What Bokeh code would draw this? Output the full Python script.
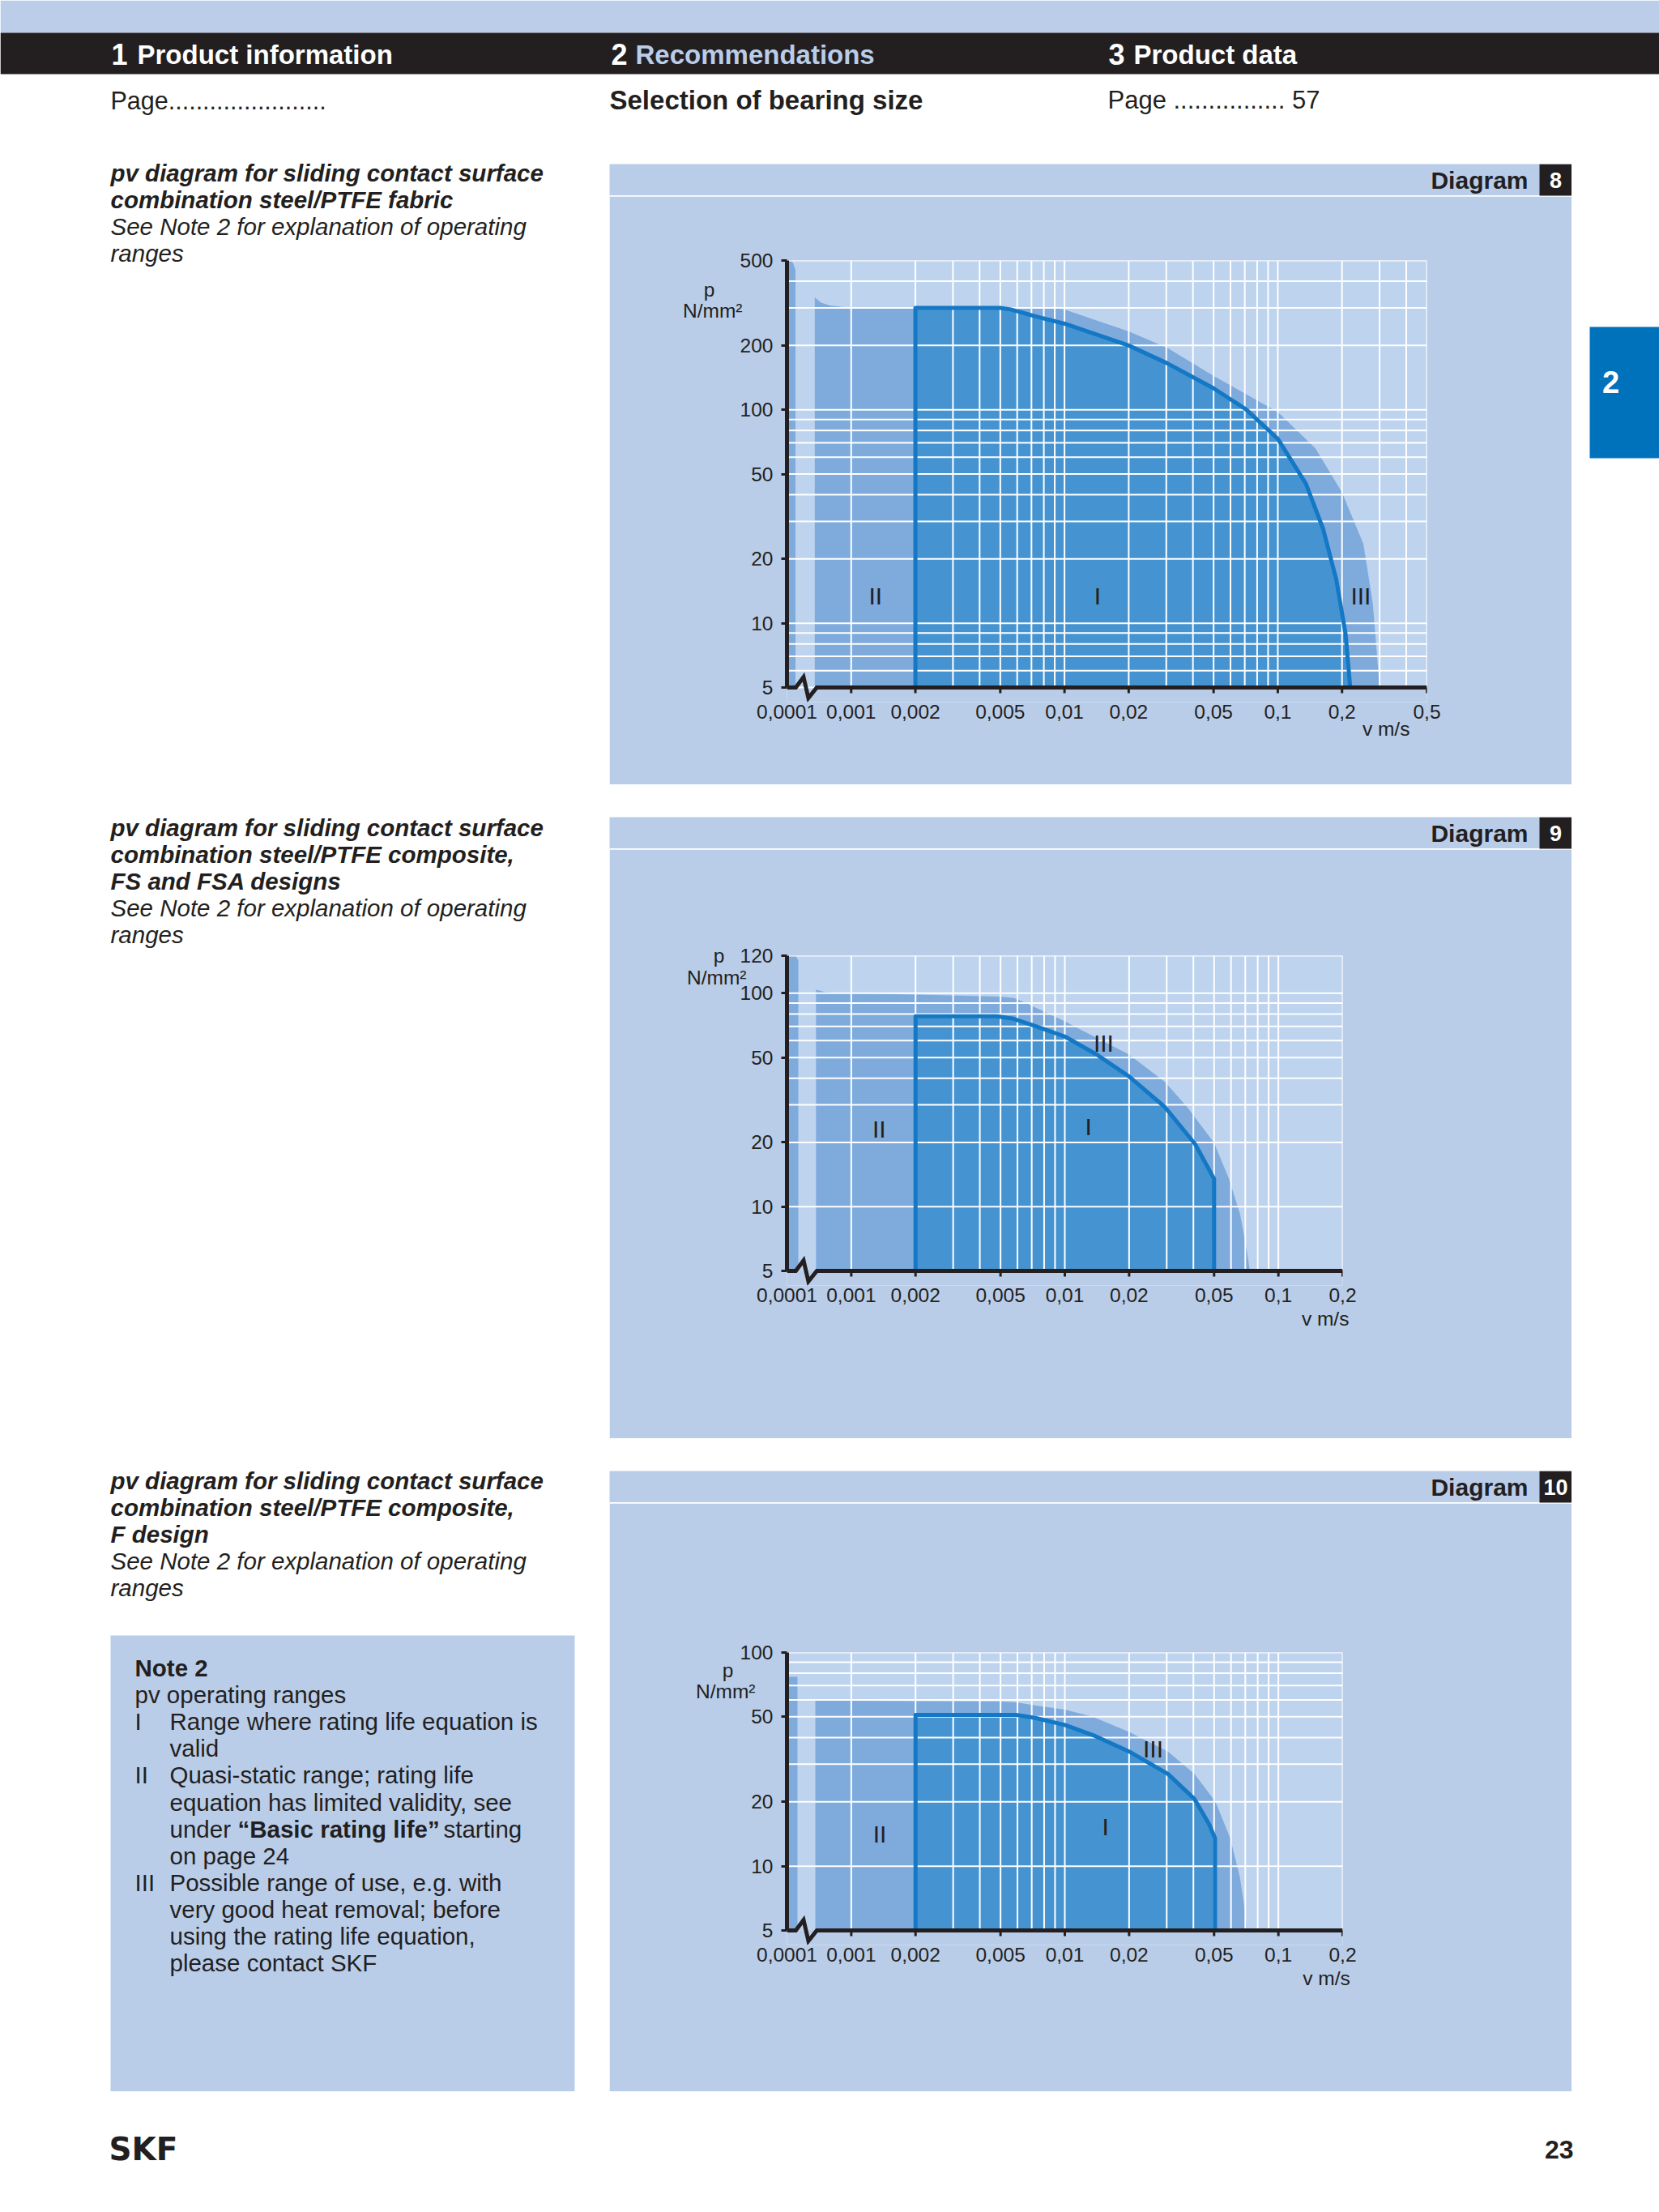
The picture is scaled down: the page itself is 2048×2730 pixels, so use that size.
from bokeh.plotting import figure
from bokeh.layouts import column, row
from bokeh.models import Range1d, FixedTicker, LogAxis, Spacer
from bokeh.core.properties import value
from bokeh.embed import file_html
from bokeh.resources import INLINE

FONT = "Liberation Sans"
INK = "#231f20"
PANEL = "#b9cde9"
FRAME = "#bdd3ee"
MED = "#7eaadc"
DARK = "#4594d1"
CURVE = "#1478c4"
TAB = "#0072bc"
TOPBAND = "#bccdea"
LIGHTTXT = "#b9cde9"
NBSP = "\u00a0"

# ---------------- chart data ----------------
X0 = 0.0005  # origin of the broken v axis, carries the "0,0001" label
ZIG_V = [0.0005, 0.00055, 0.000598, 0.00063, 0.00069]
ZIG_DY = [0, 0, 13, -13, 0]  # px above/below the p = 5 line

XT_8 = [0.0005, 0.001, 0.002, 0.005, 0.01, 0.02, 0.05, 0.1, 0.2, 0.5]
XL_8 = ["0,0001", "0,001", "0,002", "0,005", "0,01", "0,02", "0,05", "0,1", "0,2", "0,5"]
XT_9 = [0.0005, 0.001, 0.002, 0.005, 0.01, 0.02, 0.05, 0.1, 0.2]
XL_9 = ["0,0001", "0,001", "0,002", "0,005", "0,01", "0,02", "0,05", "0,1", "0,2"]

YT_8 = [5, 10, 20, 50, 100, 200, 500]
YL_8 = ["5", "10", "20", "50", "100", "200", "500"]
YT_9 = [5, 10, 20, 50, 100, 150]
YL_9 = ["5", "10", "20", "50", "100", "120"]
YT_10 = [5, 10, 20, 50, 100]
YL_10 = ["5", "10", "20", "50", "100"]

GX_8 = [0.001, 0.002, 0.003, 0.004, 0.005, 0.006, 0.007, 0.008, 0.009,
        0.01, 0.02, 0.03, 0.04, 0.05, 0.06, 0.07, 0.08, 0.09,
        0.1, 0.2, 0.3, 0.4, 0.5]
GX_9 = GX_8[:-3]
GY_8 = [5, 6, 7, 8, 9, 10, 20, 30, 40, 50, 60, 70, 80, 90, 100, 200, 300, 400, 500]
GY_9 = [10, 20, 30, 40, 50, 60, 70, 80, 90, 100, 150]
GY_10 = [10, 20, 30, 40, 50, 60, 70, 80, 90, 100]

# Diagram 8 - steel/PTFE fabric
S8_V = [0.0005, 0.0005, 0.00052, 0.000535, 0.000548, 0.000548]
S8_P = [5, 500, 500, 485, 450, 5]
O8_V = [0.000675, 0.000675, 0.00072, 0.0008, 0.001, 0.0088, 0.01, 0.02, 0.0303, 0.05,
        0.1, 0.15, 0.2, 0.252, 0.279, 0.30]
O8_P = [5, 335, 318, 307, 300, 300, 295, 233, 195, 144, 97.5, 66, 41, 23.5, 12.3, 5]
I8_V = [0.002, 0.002, 0.005, 0.0056, 0.0073, 0.01, 0.02, 0.0303, 0.05, 0.0713, 0.1,
        0.1355, 0.163, 0.188, 0.2078, 0.2185]
I8_P = [5, 300, 300, 295, 274, 253, 200, 165, 126, 100, 73, 45, 27.7, 16, 8.9, 5]
N8_V = [0.0013, 0.0143, 0.245]
N8_P = [13.4, 13.4, 13.4]

# Diagram 9 - steel/PTFE composite, FS and FSA
S9_V = [0.0005, 0.0005, 0.00055, 0.000565, 0.000565]
S9_P = [5, 150, 150, 142, 5]
O9_V = [0.000684, 0.000684, 0.00075, 0.0009, 0.002, 0.005, 0.0058, 0.00733, 0.01, 0.0141,
        0.02, 0.0294, 0.0374, 0.05, 0.0587, 0.0662, 0.0712, 0.0735]
O9_P = [5, 104, 101.5, 100, 98.5, 96.5, 95, 85.6, 73.8, 61.7, 51.6, 38.4, 29.3, 19.9,
        13.5, 9.2, 6.2, 5]
I9_V = [0.002, 0.002, 0.0048, 0.00575, 0.00733, 0.01, 0.0141, 0.02, 0.0294, 0.0408, 0.05, 0.05]
I9_P = [5, 78, 78, 76, 70, 62.7, 51.6, 40.7, 29.3, 19.6, 13.5, 5]
N9_V = [0.00135, 0.0129, 0.0152]
N9_P = [23, 23.8, 58.5]

# Diagram 10 - steel/PTFE composite, F design
S10_V = [0.0005, 0.0005, 0.00056, 0.00056]
S10_P = [5, 77, 77, 5]
O10_V = [0.000679, 0.000679, 0.002, 0.005, 0.0059, 0.00727, 0.01, 0.0135, 0.02, 0.0304,
         0.0405, 0.0508, 0.0595, 0.066, 0.0701, 0.071]
O10_P = [5, 59.6, 59.2, 58.9, 58.5, 56.5, 54, 50.1, 42.5, 34.4, 27, 20, 13.5, 8.9, 6, 5]
I10_V = [0.002, 0.002, 0.0059, 0.00727, 0.01, 0.0139, 0.02, 0.0304, 0.0405, 0.0474,
         0.0505, 0.0505]
I10_P = [5, 51, 51, 49.4, 45.8, 40.6, 34.4, 27, 20.6, 15.7, 13.5, 5]
N10_V = [0.00136, 0.0155, 0.0259]
N10_P = [14.1, 15.3, 35.5]

NUMERALS = ["II", "I", "III"]
E = 18          # panel strip kept inside the frame below the p = 5 line (axis break room)
TICK = "24.5px"
HEAD_H = 180    # height of the page header block


def no_align(f):
    try:
        f.frame_align = False
    except AttributeError:
        pass
    return f


def pixfig(x0, x1, y0, y1, bg="white"):
    f = figure(width=int(x1 - x0), height=int(y1 - y0),
               x_range=Range1d(x0, x1), y_range=Range1d(y1, y0),
               toolbar_location=None, output_backend="svg", title=None,
               min_border=0, outline_line_color=None,
               background_fill_color=bg, border_fill_color=bg,
               x_axis_type=None, y_axis_type=None)
    return no_align(f)


def txt(f, x, y, s, size, style="normal", color=INK, align="left", font=FONT):
    f.text(x=[x], y=[y], text=[s], text_font=value(font), text_font_size=f"{size}px",
           text_font_style=style, text_color=color, text_align=align,
           text_baseline="middle")


def style_axis(ax):
    ax.minor_tick_line_color = None
    ax.major_label_text_font = FONT
    ax.major_label_text_font_size = TICK
    ax.major_label_text_color = INK


def chart(xt, xl, yt, yl, xend, ytop, gx, gy, sv, sp, ov, op, iv, ip, nv, np_,
          h, fw, fh, bt, plab, vlab):
    ratio = ytop / 5.0
    ystart = 5.0 / ratio ** (E / fh)

    def p_at(dy):  # p value dy px above the p = 5 line
        return 5.0 * ratio ** (dy / fh)

    p = figure(x_axis_type="log", y_axis_type="log",
               x_range=Range1d(X0, xend), y_range=Range1d(ystart, ytop),
               width=1188, height=h,
               min_border_left=219, min_border_right=1188 - 219 - fw,
               min_border_top=bt, min_border_bottom=h - bt - fh - E,
               toolbar_location=None, output_backend="svg", title=None,
               background_fill_color=PANEL, border_fill_color=PANEL,
               outline_line_color=None)
    no_align(p)
    p.grid.visible = False
    # plot area
    p.quad(left=[X0], right=[xend], bottom=[5], top=[ytop], color=FRAME, line_color=None)
    # regions
    p.patch(sv, sp, fill_color=MED, line_color=None)
    p.patch(ov, op, fill_color=MED, line_color=None)
    p.patch(iv, ip, fill_color=DARK, line_color=None)
    # white grid over the fills
    p.segment(x0=gx, y0=[5] * len(gx), x1=gx, y1=[ytop] * len(gx),
              line_color="white", line_width=2)
    p.segment(x0=[X0] * len(gy), y0=gy, x1=[xend] * len(gy), y1=gy,
              line_color="white", line_width=2)
    # boundary of range I
    p.line(iv, ip, line_color=CURVE, line_width=5, line_join="round")
    p.text(x=nv, y=np_, text=NUMERALS, text_font=value(FONT), text_font_size="30px",
           text_color=INK, text_align="center", text_baseline="middle")
    # v axis line with the break, and its ticks
    p.line(ZIG_V + [xend], [p_at(d) for d in ZIG_DY] + [5], line_color=INK,
           line_width=5, line_join="miter")
    p.segment(x0=xt[1:], y0=[5] * (len(xt) - 1), x1=xt[1:], y1=[p_at(-7)] * (len(xt) - 1),
              line_color=INK, line_width=3)

    xa = p.xaxis[0]
    xa.ticker = FixedTicker(ticks=xt)
    xa.major_label_overrides = {t: l for t, l in zip(xt, xl)}
    xa.axis_line_color = None
    xa.major_tick_line_color = None
    xa.major_tick_out = 0
    xa.major_tick_in = 0
    xa.major_label_standoff = 3
    style_axis(xa)

    ya = p.yaxis[0]
    ya.ticker = FixedTicker(ticks=yt)
    ya.major_label_overrides = {t: l for t, l in zip(yt, yl)}
    ya.bounds = (5, ytop)
    ya.axis_line_width = 5
    ya.axis_line_color = INK
    ya.major_tick_out = 7
    ya.major_tick_in = 0
    ya.major_tick_line_width = 3
    ya.major_tick_line_color = INK
    ya.major_label_standoff = 10
    style_axis(ya)

    # axis titles
    (p_dy, n_dy, pad, lstand) = plab
    y_p = ytop / ratio ** (p_dy / fh)
    y_n = ytop / ratio ** (n_dy / fh)
    la = LogAxis(ticker=FixedTicker(ticks=[y_p, y_n]),
                 major_label_overrides={y_p: "p" + NBSP * pad, y_n: "N/mm²"},
                 axis_line_color=None, major_tick_line_color=None,
                 major_tick_out=0, major_tick_in=0, major_label_standoff=lstand)
    style_axis(la)
    p.add_layout(la, "left")
    vx, vstand = vlab
    va = LogAxis(ticker=FixedTicker(ticks=[vx]), major_label_overrides={vx: "v m/s"},
                 axis_line_color=None, major_tick_line_color=None,
                 major_tick_out=0, major_tick_in=0, major_label_standoff=vstand)
    style_axis(va)
    p.add_layout(va, "below")
    return p


def strip(num, y0):
    f = pixfig(752, 1940, y0, y0 + 40, PANEL)
    f.quad(left=[752], right=[1940], top=[y0 + 38.5], bottom=[y0 + 40.5],
           color="white", line_color=None)
    f.quad(left=[1900], right=[1940], top=[y0], bottom=[y0 + 39],
           color=INK, line_color=None)
    txt(f, 1886, y0 + 20, "Diagram", 30, "bold", INK, "right")
    txt(f, 1920, y0 + 20, num, 27, "bold", "white", "center")
    return f


# ---------------- page ----------------
header = pixfig(0, 2048, 0, HEAD_H)
header.quad(left=[0], right=[2048], top=[0], bottom=[40], color=TOPBAND, line_color=None)
header.quad(left=[0], right=[2048], top=[40], bottom=[91], color=INK, line_color=None)
txt(header, 137, 66, "1", 36, "bold", "white")
txt(header, 169, 67, "Product information", 33, "bold", "white")
txt(header, 754, 66, "2", 36, "bold", "white")
txt(header, 784, 67, "Recommendations", 33, "bold", LIGHTTXT)
txt(header, 1368, 66, "3", 36, "bold", "white")
txt(header, 1399, 67, "Product data", 33, "bold", "white")
txt(header, 136, 123, "Page.......................", 30.5)
txt(header, 752, 123, "Selection of bearing size", 33, "bold")
txt(header, 1367, 123, "Page ................ 57", 31)

left = pixfig(0, 752, HEAD_H, 2581)
blocks = [
    [("pv diagram for sliding contact surface", "bold italic", 212.5),
     ("combination steel/PTFE fabric", "bold italic", 245.5),
     ("See Note 2 for explanation of operating", "italic", 278.6),
     ("ranges", "italic", 311.7)],
    [("pv diagram for sliding contact surface", "bold italic", 1020.5),
     ("combination steel/PTFE composite,", "bold italic", 1053.6),
     ("FS and FSA designs", "bold italic", 1086.5),
     ("See Note 2 for explanation of operating", "italic", 1119.5),
     ("ranges", "italic", 1152.5)],
    [("pv diagram for sliding contact surface", "bold italic", 1827),
     ("combination steel/PTFE composite,", "bold italic", 1860),
     ("F design", "bold italic", 1893),
     ("See Note 2 for explanation of operating", "italic", 1926),
     ("ranges", "italic", 1959)],
]
for blk in blocks:
    for s, st, y in blk:
        txt(left, 136, y, s, 29.5, st)

left.quad(left=[136], right=[709], top=[2018], bottom=[2581], color=PANEL, line_color=None)
txt(left, 166, 2058, "Note 2", 29.5, "bold")
txt(left, 166, 2091, "pv operating ranges", 29.5)
note = [("I", "Range where rating life equation is", 2124),
        (None, "valid", 2157),
        ("II", "Quasi-static range; rating life", 2190),
        (None, "equation has limited validity, see", 2224),
        (None, "on page 24", 2290),
        ("III", "Possible range of use, e.g. with", 2323),
        (None, "very good heat removal; before", 2356),
        (None, "using the rating life equation,", 2389),
        (None, "please contact SKF", 2422)]
for num, s, y in note:
    if num:
        txt(left, 166, y, num, 29.5)
    txt(left, 209, y, s, 29.5)
txt(left, 209, 2257, "under", 29.5)
txt(left, 293, 2257, "“Basic rating life”", 29.5, "bold")
txt(left, 547, 2257, "starting", 29.5)

right = pixfig(1940, 2048, HEAD_H, 2581)
right.quad(left=[1962], right=[2048], top=[403], bottom=[565], color=TAB, line_color=None)
txt(right, 1988, 471, "2", 38, "bold", "white", "center")

footer = pixfig(0, 2048, 2581, 2722)
txt(footer, 134, 2652, "SKF", 39, "bold", INK, "left", "DejaVu Sans")
txt(footer, 1942, 2652, "23", 32, "bold", INK, "right")

c8 = chart(XT_8, XL_8, YT_8, YL_8, 0.5, 500, GX_8, GY_8, S8_V, S8_P, O8_V, O8_P,
           I8_V, I8_P, N8_V, N8_P, 726, 790, 527, 79, (36, 62, 5, -6), (0.322, -4))
c9 = chart(XT_9, XL_9, YT_9, YL_9, 0.2, 150, GX_9, GY_9, S9_V, S9_P, O9_V, O9_P,
           I9_V, I9_P, N9_V, N9_P, 727, 686, 389, 131, (0, 27, 4, -11), (0.166, 4))
c10 = chart(XT_9, XL_9, YT_10, YL_10, 0.2, 100, GX_9, GY_10, S10_V, S10_P, O10_V, O10_P,
            I10_V, I10_P, N10_V, N10_P, 726, 686, 343, 184, (22, 48, 4, -22), (0.168, 4))

charts = column(Spacer(width=1188, height=202 - HEAD_H),
                strip("8", 202), c8, Spacer(width=1188, height=40),
                strip("9", 1008), c9, Spacer(width=1188, height=40),
                strip("10", 1815), c10)
page = column(header, row(left, charts, right), footer)

open("out.html", "w").write(file_html(page, INLINE))
